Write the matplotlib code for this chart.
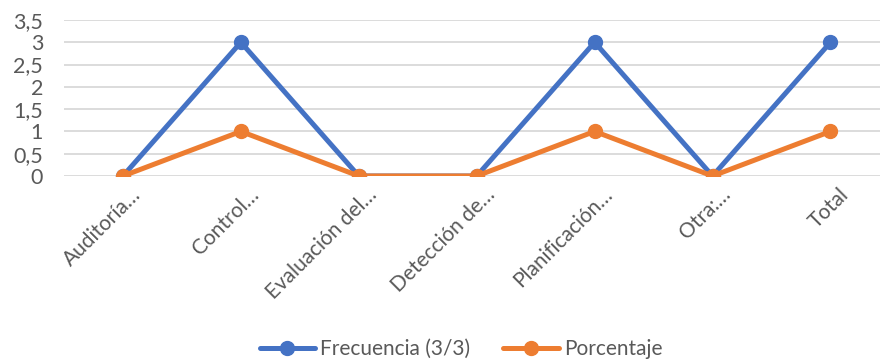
import matplotlib.pyplot as plt
import matplotlib.transforms as mtransforms
import numpy as np

categories = ["Auditoría…", "Control…", "Evaluación del…", "Detección de…",
              "Planificación…", "Otra:…", "Total"]
frecuencia = [0, 3, 0, 0, 3, 0, 3]
porcentaje = [0, 1, 0, 0, 1, 0, 1]
y_ticks = [0, 0.5, 1, 1.5, 2, 2.5, 3, 3.5]
y_tick_labels = ["0", "0,5", "1", "1,5", "2", "2,5", "3", "3,5"]

plt.rcParams['font.family'] = ['Lato', 'DejaVu Sans']
text_color = "#595959"

fig = plt.figure(figsize=(8.83, 3.62), dpi=100)
ax = fig.add_axes([64 / 883, 1 - 176 / 362, (880 - 64) / 883, (176 - 20) / 362])

x = np.arange(len(categories))
ax.plot(x, frecuencia, color="#4472c4", lw=3.6, marker="o", ms=10,
        label="Frecuencia (3/3)", solid_capstyle="round", zorder=3)
ax.plot(x, porcentaje, color="#ed7d31", lw=3.6, marker="o", ms=10,
        label="Porcentaje", solid_capstyle="round", zorder=4)

ax.set_xlim(-0.5, 6.42)
ax.set_ylim(0, 3.5)
ax.set_yticks(y_ticks)
ax.set_yticklabels(y_tick_labels)
ax.set_xticks(x)
ax.set_xticklabels(categories, rotation=45, ha="right", rotation_mode="anchor")
ax.tick_params(length=0, labelcolor=text_color)
ax.tick_params(axis="x", pad=6, labelsize=15)
ax.tick_params(axis="y", pad=15, labelsize=15.5)
ax.grid(axis="y", color="#d9d9d9", lw=1.3)
ax.set_axisbelow(True)
for s in ax.spines.values():
    s.set_visible(False)

# nudge the slanted category labels to the right
shift = mtransforms.ScaledTranslation(8 / 100, 0, fig.dpi_scale_trans)
for lbl in ax.get_xticklabels():
    lbl.set_transform(lbl.get_transform() + shift)

leg = fig.legend(loc="center", bbox_to_anchor=(461 / 883, 1 - 349 / 362), ncol=2,
                 frameon=False, fontsize=15, handlelength=2.65, columnspacing=1.6,
                 handletextpad=0.25)
for t in leg.get_texts():
    t.set_color(text_color)

fig.savefig("out.png", dpi=100)
